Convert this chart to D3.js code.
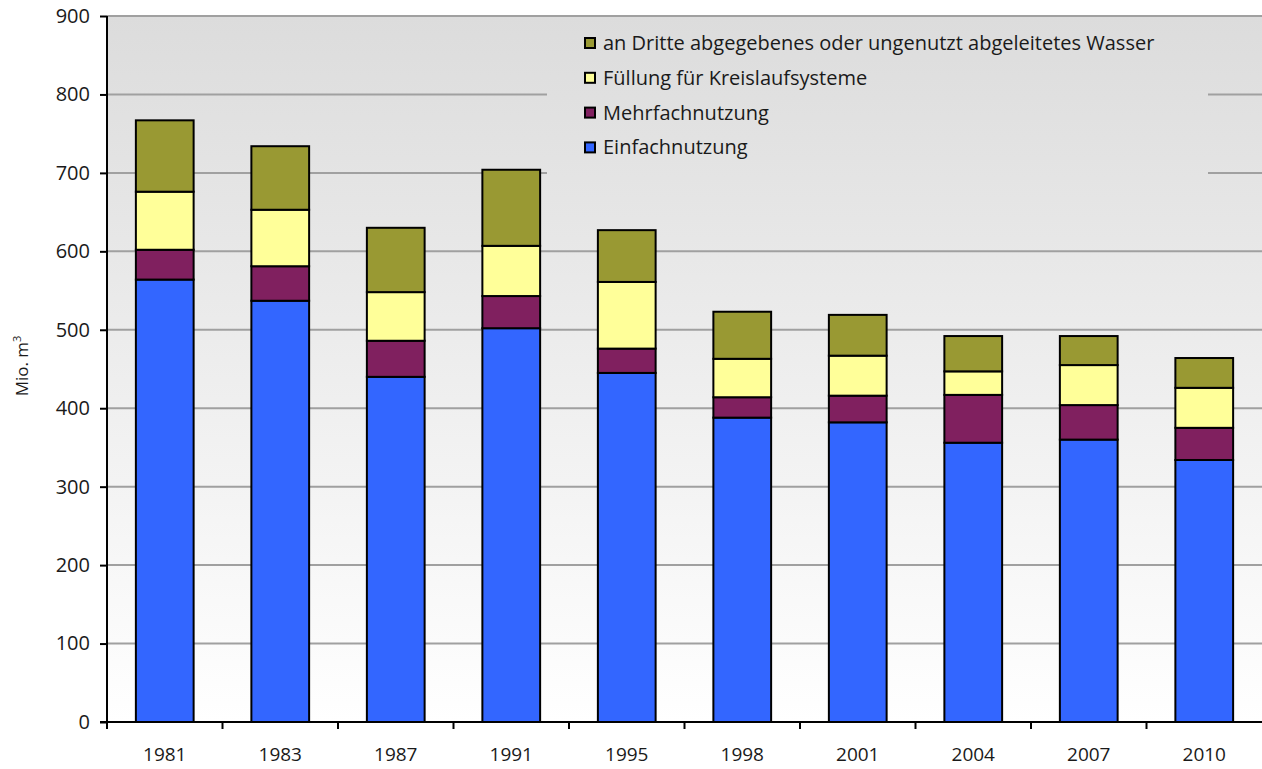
<!DOCTYPE html>
<html><head><meta charset="utf-8">
<script src="https://cdn.jsdelivr.net/npm/d3@7/dist/d3.min.js"></script>
<style>body{margin:0;background:#fff}svg{display:block}text{font-family:"Open Sans",sans-serif;fill:#1a1a1a}</style>
</head><body><svg id="c" width="1262" height="769"></svg>
<script>
const years = ["1981","1983","1987","1991","1995","1998","2001","2004","2007","2010"];
const einfach = [564,537,440,502,445,388,382,356,360,334];
const mehrfach = [38,44,46,41,31,26,34,61,44,41];
const fuellung = [74,72,62,64,85,49,51,30,51,51];
const dritte = [91,81,82,97,66,60,52,45,37,38];
const seriesNames = ["Einfachnutzung","Mehrfachnutzung","Füllung für Kreislaufsysteme","an Dritte abgegebenes oder ungenutzt abgeleitetes Wasser"];
const seriesColors = ["#3366ff","#80205f","#ffff99","#999933"];
const yTicks = [0,100,200,300,400,500,600,700,800,900];

const svg = d3.select("#c");
const L=107, R=1262, T=16, B=722;
const x = d3.scaleBand().domain(years).range([L,R]).paddingInner(0.5).paddingOuter(0.25);
const y = d3.scaleLinear().domain([0,900]).range([B,T]);

const defs = svg.append("defs");
const g = defs.append("linearGradient").attr("id","bg").attr("gradientUnits","userSpaceOnUse")
  .attr("x1",0).attr("y1",T).attr("x2",0).attr("y2",B);
g.append("stop").attr("offset","0").attr("stop-color","#dcdcdc");
g.append("stop").attr("offset","1").attr("stop-color","#ffffff");

svg.append("rect").attr("x",L).attr("y",T).attr("width",R-L).attr("height",B-T).attr("fill","url(#bg)");

// gridlines
svg.append("g").selectAll("line").data(yTicks.filter(d=>d>0)).join("line")
  .attr("x1",L).attr("x2",R).attr("y1",d=>y(d)).attr("y2",d=>y(d))
  .attr("stroke","#a0a0a0").attr("stroke-width",2);

// legend background hides gridline
svg.append("rect").attr("x",547).attr("y",T+2).attr("width",1208-547).attr("height",160).attr("fill","url(#bg)");

// stacked bars
const rows = years.map((yr,i)=>({year:yr, s0:einfach[i], s1:mehrfach[i], s2:fuellung[i], s3:dritte[i]}));
const stack = d3.stack().keys(["s0","s1","s2","s3"])(rows);
svg.append("g").selectAll("g").data(stack).join("g").attr("fill",(d,i)=>seriesColors[i])
  .selectAll("rect").data(d=>d).join("rect")
  .attr("x",d=>x(d.data.year)).attr("width",x.bandwidth())
  .attr("y",d=>y(d[1])).attr("height",d=>y(d[0])-y(d[1]))
  .attr("stroke","#000").attr("stroke-width",2);

// y axis
const ya = svg.append("g").attr("transform",`translate(${L},0)`)
  .call(d3.axisLeft(y).tickValues(yTicks).tickSize(7).tickPadding(10));
ya.select(".domain").remove();
ya.selectAll("line").attr("stroke","#000").attr("stroke-width",2);
ya.selectAll("text").style("font-size","20px").style("font-family","'Open Sans',sans-serif").attr("fill","#1a1a1a");
svg.append("line").attr("x1",L).attr("x2",L).attr("y1",T).attr("y2",B+1).attr("stroke","#000").attr("stroke-width",2);

// x axis
svg.append("line").attr("x1",L-7).attr("x2",R).attr("y1",B).attr("y2",B).attr("stroke","#000").attr("stroke-width",2);
const step = x.step();
const bounds = years.map((d,i)=>L+i*step);
svg.append("g").selectAll("line").data(bounds).join("line")
  .attr("x1",d=>d).attr("x2",d=>d).attr("y1",B).attr("y2",B+7).attr("stroke","#000").attr("stroke-width",2);
svg.append("g").selectAll("text").data(years).join("text")
  .attr("x",d=>x(d)+x.bandwidth()/2).attr("y",B+39).attr("text-anchor","middle")
  .style("font-size","19px").text(d=>d);

// y label
const yl = svg.append("text").attr("transform","translate(28,366) rotate(-90)").attr("text-anchor","middle").style("font-size","17px");
yl.append("tspan").text("Mio. m");
yl.append("tspan").attr("dy",-7).style("font-size","11px").text("3");

// legend
const legendOrder = [3,2,1,0];
const lg = svg.append("g").selectAll("g").data(legendOrder).join("g")
  .attr("transform",(d,i)=>`translate(585,${43+i*34.8})`);
lg.append("rect").attr("x",0).attr("y",-5).attr("width",10).attr("height",10)
  .attr("fill",d=>seriesColors[d]).attr("stroke","#000").attr("stroke-width",2);
lg.append("text").attr("x",18).attr("y",0).attr("dy","0.35em").style("font-size","20px").text(d=>seriesNames[d]);
</script></body></html>
